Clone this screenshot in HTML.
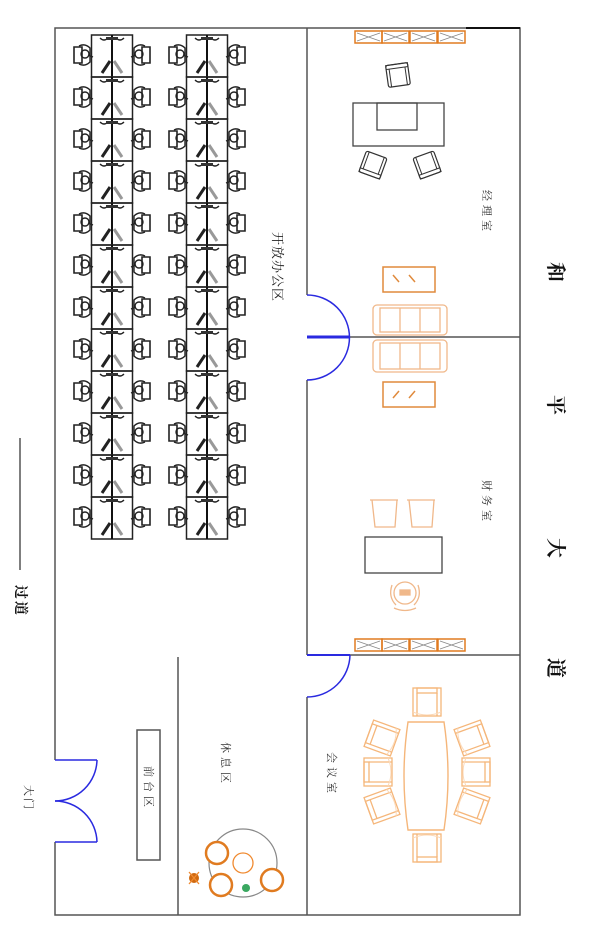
<!DOCTYPE html>
<html><head><meta charset="utf-8"><style>
html,body{margin:0;padding:0;background:#fff;width:600px;height:929px;overflow:hidden}
svg{display:block}
text{font-family:"Liberation Serif","Noto Serif CJK SC","Noto Sans CJK SC",serif}
</style></head><body>
<svg width="600" height="929" viewBox="0 0 600 929" xmlns="http://www.w3.org/2000/svg">
<defs>
<g id="ws">
  <!-- desk cell centered at x=0, top y=0 -->
  <rect x="-20.5" y="0" width="41" height="42" fill="none" stroke="#222" stroke-width="1.5"/>
  <line x1="0" y1="0" x2="0" y2="42" stroke="#111" stroke-width="2"/>
  <path d="M-12,3 q4,4 8,0 M4,3 q4,4 8,0" fill="none" stroke="#222" stroke-width="1.3"/>
  <rect x="-6" y="2" width="12" height="3" fill="#333"/>
  <path d="M-2,26 L-10,38" stroke="#222" stroke-width="3"/>
  <path d="M2,26 L10,38" stroke="#999" stroke-width="3"/>
  <!-- left chair -->
  <path d="M-38,12 h8 v16 h-8 z" fill="none" stroke="#222" stroke-width="1.6"/>
  <path d="M-33,11 q6,-3 11,2 v14 q-5,5 -11,2" fill="none" stroke="#222" stroke-width="1.4"/>
  <circle cx="-27" cy="19" r="4" fill="none" stroke="#222" stroke-width="1.4"/>
  <line x1="-24" y1="20" x2="-19" y2="22" stroke="#222" stroke-width="1.4"/>
  <!-- right chair -->
  <path d="M38,12 h-8 v16 h8 z" fill="none" stroke="#222" stroke-width="1.6"/>
  <path d="M33,11 q-6,-3 -11,2 v14 q5,5 11,2" fill="none" stroke="#222" stroke-width="1.4"/>
  <circle cx="27" cy="19" r="4" fill="none" stroke="#222" stroke-width="1.4"/>
  <line x1="24" y1="20" x2="19" y2="22" stroke="#222" stroke-width="1.4"/>
</g>
<g id="win">
  <rect x="0" y="0" width="27" height="12" fill="none" stroke="#e07b20" stroke-width="1.5"/>
  <path d="M2,2 L25,10 M2,10 L25,2" stroke="#888" stroke-width="0.8"/>
</g>
<g id="mchair">
  <rect x="-14" y="-14" width="28" height="28" fill="none" stroke="#f5b67a" stroke-width="1.3"/>
  <rect x="-10" y="-14" width="20" height="5" fill="none" stroke="#f5b67a" stroke-width="1.3"/>
  <line x1="-10" y1="-9" x2="-10" y2="14" stroke="#f5b67a" stroke-width="1.3"/>
  <line x1="10" y1="-9" x2="10" y2="14" stroke="#f5b67a" stroke-width="1.3"/>
  <path d="M-14,10 q14,6 28,0" fill="none" stroke="#fbd9b8" stroke-width="1"/>
</g>
<g id="bchair">
  <rect x="-11" y="-11" width="22" height="22" rx="2" fill="none" stroke="#333" stroke-width="1.2"/>
  <rect x="-11" y="-11" width="22" height="4" fill="none" stroke="#333" stroke-width="1"/>
  <line x1="-8" y1="-7" x2="-8" y2="11" stroke="#333" stroke-width="1"/>
  <line x1="8" y1="-7" x2="8" y2="11" stroke="#333" stroke-width="1"/>
</g>
</defs>

<!-- outer walls -->
<g stroke="#555" stroke-width="1.5" fill="none">
  <path d="M55,760 V28 H520 V915 H55 V842"/>
  <path d="M307,28 V295 M307,380 V655 M307,697 V915"/>
  <path d="M307,337 H520 M307,655 H520"/>
  <path d="M178,657 V915"/>
  <rect x="137" y="730" width="23" height="130"/>
  <line x1="20" y1="438" x2="20" y2="570"/>
</g>
<line x1="466" y1="28" x2="520" y2="28" stroke="#111" stroke-width="2"/>

<!-- doors -->
<g stroke="#2a2ae0" fill="none" stroke-width="1.5">
  <line x1="55" y1="760" x2="97" y2="760"/>
  <line x1="55" y1="842" x2="97" y2="842"/>
  <path d="M97,760 A42,42 0 0 1 55,801"/>
  <path d="M97,842 A42,42 0 0 0 55,801"/>
  <path d="M307,295 A42,42 0 0 1 307,380"/>
  <line x1="307" y1="337" x2="350" y2="337" stroke-width="3"/>
  <line x1="307" y1="655" x2="350" y2="655" stroke-width="2"/>
  <path d="M350,655 A43,43 0 0 1 307,697"/>
</g>

<!-- workstations -->
<g>
  <use href="#ws" x="112" y="35"/><use href="#ws" x="112" y="77"/>
  <use href="#ws" x="112" y="119"/><use href="#ws" x="112" y="161"/>
  <use href="#ws" x="112" y="203"/><use href="#ws" x="112" y="245"/>
  <use href="#ws" x="112" y="287"/><use href="#ws" x="112" y="329"/>
  <use href="#ws" x="112" y="371"/><use href="#ws" x="112" y="413"/>
  <use href="#ws" x="112" y="455"/><use href="#ws" x="112" y="497"/>
  <use href="#ws" x="207" y="35"/><use href="#ws" x="207" y="77"/>
  <use href="#ws" x="207" y="119"/><use href="#ws" x="207" y="161"/>
  <use href="#ws" x="207" y="203"/><use href="#ws" x="207" y="245"/>
  <use href="#ws" x="207" y="287"/><use href="#ws" x="207" y="329"/>
  <use href="#ws" x="207" y="371"/><use href="#ws" x="207" y="413"/>
  <use href="#ws" x="207" y="455"/><use href="#ws" x="207" y="497"/>
</g>

<!-- windows -->
<use href="#win" x="355" y="31"/><use href="#win" x="382" y="31"/><use href="#win" x="410" y="31"/><use href="#win" x="438" y="31"/>
<use href="#win" x="355" y="639"/><use href="#win" x="382" y="639"/><use href="#win" x="410" y="639"/><use href="#win" x="438" y="639"/>

<!-- manager room -->
<use href="#bchair" transform="translate(398,75) rotate(-8)"/>
<rect x="353" y="103" width="91" height="43" fill="none" stroke="#444" stroke-width="1.3"/>
<rect x="377" y="103" width="40" height="27" fill="none" stroke="#444" stroke-width="1.3"/>
<use href="#bchair" transform="translate(373,165) rotate(200)"/>
<use href="#bchair" transform="translate(427,165) rotate(160)"/>
<g fill="none" stroke="#e08a3c" stroke-width="1.5">
  <rect x="383" y="267" width="52" height="25"/>
  <path d="M393,275 l6,7 M409,275 l6,7"/>
  <rect x="383" y="382" width="52" height="25"/>
  <path d="M399,391 l-6,7 M415,391 l-6,7"/>
</g>
<g fill="none" stroke="#f0b88a" stroke-width="1.3">
  <rect x="373" y="305" width="74" height="30" rx="4"/>
  <rect x="380" y="308" width="60" height="24"/>
  <path d="M400,308 v24 M420,308 v24"/>
  <rect x="373" y="340" width="74" height="32" rx="4"/>
  <rect x="380" y="343" width="60" height="26"/>
  <path d="M400,343 v26 M420,343 v26"/>
</g>

<!-- finance -->
<g fill="none" stroke="#f0b88a" stroke-width="1.3">
  <path d="M370,500 h28 M372,500 l3,27 h20 l2,-27"/>
  <path d="M407,500 h28 M409,500 l3,27 h20 l2,-27"/>
  <circle cx="405" cy="593" r="11"/>
  <path d="M392,585 q-4,12 4,20 M418,585 q4,12 -4,20 M394,608 q11,5 22,0"/>
  <rect x="400" y="590" width="10" height="5" fill="#f0b88a"/>
</g>
<rect x="365" y="537" width="77" height="36" fill="none" stroke="#444" stroke-width="1.3"/>

<!-- meeting -->
<path d="M408,722 h36 q8,54 0,108 h-36 q-8,-54 0,-108 z" fill="none" stroke="#f5b67a" stroke-width="1.4"/>
<use href="#mchair" transform="translate(427,702)"/>
<use href="#mchair" transform="translate(427,848) rotate(180)"/>
<use href="#mchair" transform="translate(382,738) rotate(-70)"/>
<use href="#mchair" transform="translate(378,772) rotate(-90)"/>
<use href="#mchair" transform="translate(382,806) rotate(-110)"/>
<use href="#mchair" transform="translate(472,738) rotate(70)"/>
<use href="#mchair" transform="translate(476,772) rotate(90)"/>
<use href="#mchair" transform="translate(472,806) rotate(110)"/>

<!-- lounge -->
<circle cx="243" cy="863" r="34" fill="none" stroke="#888" stroke-width="1.2"/>
<circle cx="243" cy="863" r="10" fill="none" stroke="#f08a30" stroke-width="1.3"/>
<g fill="#fff" stroke="#e07b20" stroke-width="2.5">
  <circle cx="217" cy="853" r="11"/>
  <circle cx="221" cy="885" r="11"/>
  <circle cx="272" cy="880" r="11"/>
</g>
<circle cx="194" cy="878" r="5" fill="#d06a10"/>
<path d="M189,872 l10,12 M199,872 l-10,12" stroke="#f08a30" stroke-width="1.3"/>
<circle cx="246" cy="888" r="4" fill="#3aa860"/>

<!-- labels -->
<g fill="#333" font-size="11">
  <text transform="translate(483,190) rotate(90)" letter-spacing="4">经理室</text>
  <text transform="translate(483,480) rotate(90)" letter-spacing="4">财务室</text>
  <text transform="translate(328,752) rotate(90)" letter-spacing="4">会议室</text>
  <text transform="translate(222,742) rotate(90)" letter-spacing="4">休息区</text>
  <text transform="translate(145,766) rotate(90)" letter-spacing="4">前台区</text>
  <text transform="translate(25,785) rotate(90)" letter-spacing="2">大门</text>
</g>
<text transform="translate(273,232) rotate(90)" font-size="13" fill="#222" letter-spacing="1">开放办公区</text>
<text transform="translate(16,585) rotate(90)" font-size="14" font-weight="bold" fill="#111" letter-spacing="2">过道</text>
<g font-size="20" font-weight="bold" fill="#111">
  <text transform="translate(549,262) rotate(90)">和</text>
  <text transform="translate(549,395) rotate(90)">平</text>
  <text transform="translate(549,538) rotate(90)">大</text>
  <text transform="translate(549,658) rotate(90)">道</text>
</g>
</svg>
</body></html>
